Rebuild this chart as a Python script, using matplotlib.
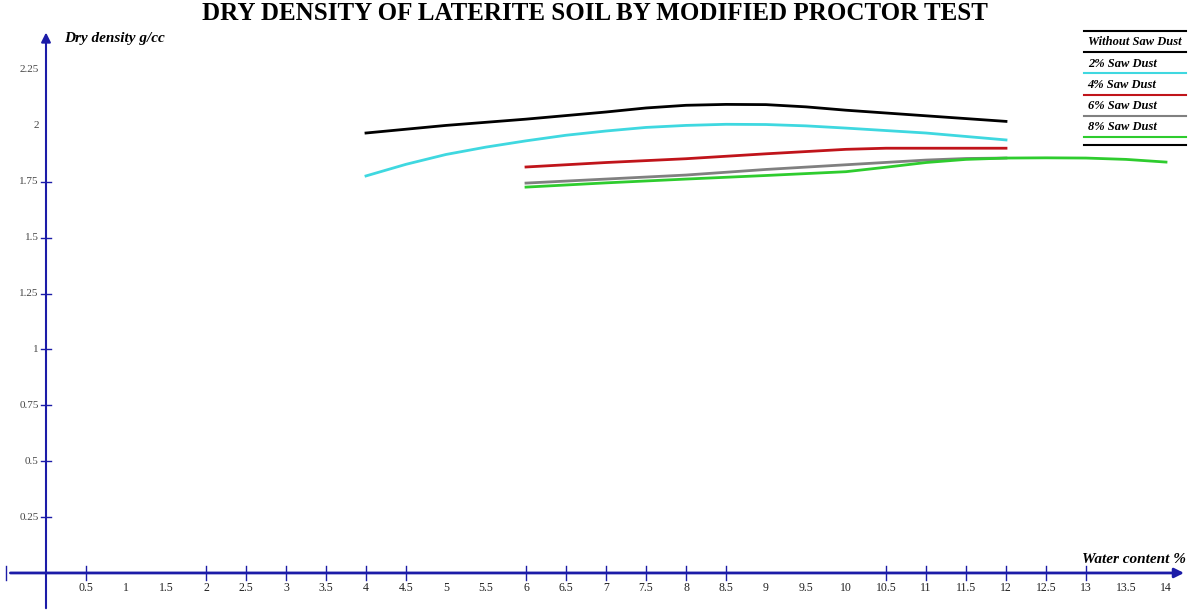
import matplotlib.pyplot as plt

# water content % and dry density g/cc
w_plain = [4, 5, 6, 7, 7.5, 8, 8.5, 9, 9.5, 10, 11, 12]
d_plain = [1.968, 2.002, 2.03, 2.062, 2.08, 2.092, 2.096, 2.095, 2.085, 2.07, 2.045, 2.02]
w_2pct = [4, 4.5, 5, 5.5, 6, 6.5, 7, 7.5, 8, 8.5, 9, 9.5, 10, 11, 12]
d_2pct = [1.776, 1.828, 1.872, 1.905, 1.933, 1.958, 1.977, 1.993, 2.002, 2.007,
          2.006, 2.0, 1.99, 1.968, 1.937]
w_4pct = [6, 7, 8, 9, 10, 10.5, 11, 12]
d_4pct = [1.816, 1.836, 1.853, 1.875, 1.895, 1.9, 1.9, 1.9]
w_6pct = [6, 7, 8, 9, 10, 11, 11.5, 12]
d_6pct = [1.744, 1.762, 1.78, 1.805, 1.826, 1.847, 1.854, 1.856]
w_8pct = [6, 7, 8, 9, 10, 10.5, 11, 11.5, 12, 12.5, 13, 13.5, 14]
d_8pct = [1.726, 1.745, 1.762, 1.778, 1.795, 1.815, 1.836, 1.85, 1.856, 1.857, 1.856,
          1.85, 1.838]

x_labels = [0.5, 1, 1.5, 2, 2.5, 3, 3.5, 4, 4.5, 5, 5.5, 6, 6.5, 7, 7.5, 8, 8.5,
            9, 9.5, 10, 10.5, 11, 11.5, 12, 12.5, 13, 13.5, 14]
x_ticks = [-0.5, 0.5, 2, 2.5, 3, 3.5, 4, 4.5, 6, 6.5, 7, 7.5, 8, 8.5,
           10.5, 11, 11.5, 12, 12.5, 13]
y_labels = [0.25, 0.5, 0.75, 1, 1.25, 1.5, 1.75, 2, 2.25]
y_ticks = [0.25, 0.5, 0.75, 1, 1.25, 1.5, 1.75]

series = [
    ("Without Saw Dust", w_plain, d_plain, "black"),
    ("2% Saw Dust", w_2pct, d_2pct, "#3fd8e0"),
    ("4% Saw Dust", w_4pct, d_4pct, "#c0141a"),
    ("6% Saw Dust", w_6pct, d_6pct, "#808080"),
    ("8% Saw Dust", w_8pct, d_8pct, "#2ecc2e"),
]

axis_blue = "#1c1ca8"
serif = "Liberation Serif"

fig = plt.figure(figsize=(11.9, 6.15), dpi=100)
ax = fig.add_axes([0, 0, 1, 1])
ax.set_xlim(-0.575, 14.3)
ax.set_ylim(-0.188, 2.563)
ax.axis("off")

# axes with arrows
ax.annotate("", xy=(14.26, 0), xytext=(-0.48, 0),
            arrowprops=dict(arrowstyle="-|>", color=axis_blue, lw=2, mutation_scale=14))
ax.annotate("", xy=(0, 2.43), xytext=(0, -0.17),
            arrowprops=dict(arrowstyle="-|>", color=axis_blue, lw=1.5, mutation_scale=14))

for t in x_ticks:
    ax.plot([t, t], [-0.03, 0.03], color=axis_blue, lw=1)
for t in y_ticks:
    ax.plot([-0.06, 0.06], [t, t], color=axis_blue, lw=1)
for t in x_labels:
    ax.text(t, -0.068, f"{t:g}", ha="center", va="center", fontsize=8.5,
            family=serif, color="#222222")
for t in y_labels:
    ax.text(-0.09, t, f"{t:g}", ha="right", va="center", fontsize=8,
            family=serif, color="#444444")

for name, w, d, c in series:
    ax.plot(w, d, color=c, lw=2)

fig.text(0.5, 0.978, "DRY DENSITY OF LATERITE SOIL BY MODIFIED PROCTOR TEST",
         ha="center", va="center", fontsize=18, fontweight="bold", family=serif)
fig.text(0.054, 0.938, "Dry density g/cc", ha="left", va="center", fontsize=11,
         fontweight="bold", style="italic", family=serif)
fig.text(0.997, 0.091, "Water content %", ha="right", va="center", fontsize=11,
         fontweight="bold", style="italic", family=serif)

# hand-drawn style legend box at top right
lx0, lx1 = 0.911, 0.997
fig.add_artist(plt.Line2D([lx0, lx1], [0.949, 0.949], color="black", lw=1.5))
for i, (name, w, d, c) in enumerate(series):
    ty = 0.931 - i * 0.0345
    fig.text(lx0 + 0.003, ty, name, ha="left", va="center", fontsize=9,
             fontweight="bold", style="italic", family=serif)
    ly = ty - 0.016
    fig.add_artist(plt.Line2D([lx0, lx1], [ly, ly], color=c, lw=1.5))
fig.add_artist(plt.Line2D([lx0, lx1], [0.764, 0.764], color="black", lw=1.5))

fig.savefig("out.png", dpi=100)
